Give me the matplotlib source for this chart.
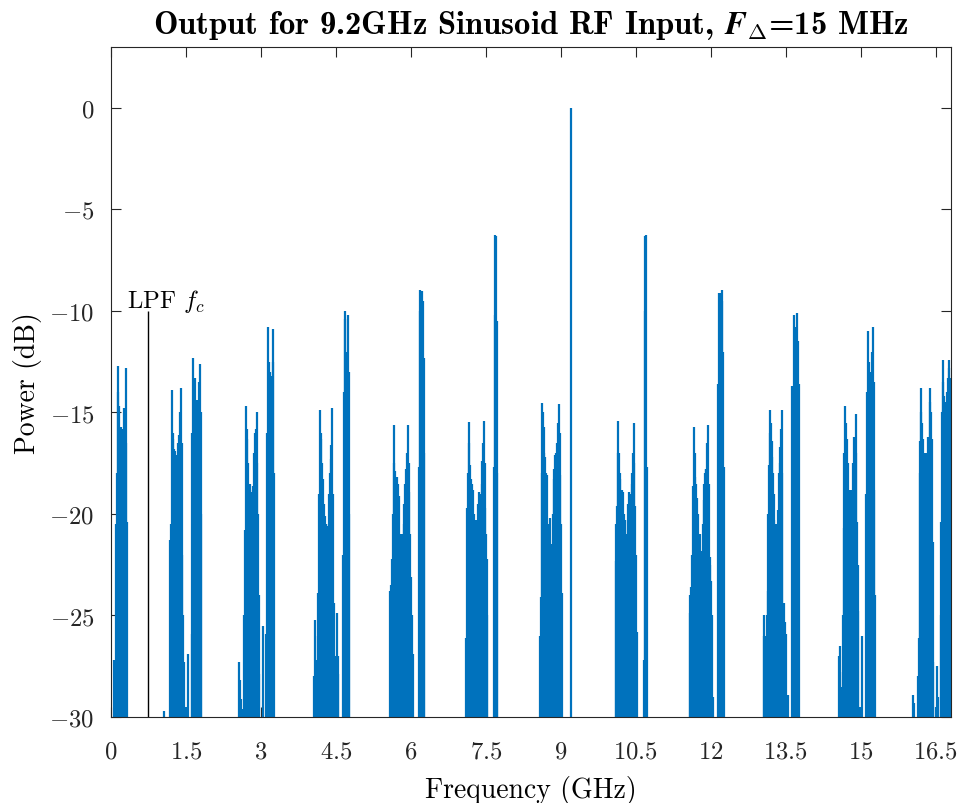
import matplotlib
matplotlib.use('Agg')
import matplotlib.pyplot as plt
from matplotlib.ticker import FuncFormatter

plt.rcParams['font.family'] = 'cmr10'
plt.rcParams['mathtext.fontset'] = 'cm'
plt.rcParams['axes.unicode_minus'] = False

# spectral lines (GHz, dB), grouped by 1.5 GHz zone
f_z0 = [0.060, 0.080, 0.100, 0.115, 0.134, 0.150, 0.167, 0.180, 0.194, 0.210, 0.227, 0.245, 0.260, 0.278, 0.294, 0.310, 0.327]
p_z0 = [-27.2, -29.0, -20.5, -18.0, -12.7, -14.0, -14.7, -15.8, -15.7, -16.0, -16.2, -15.8, -14.8, -15.5, -12.8, -16.5, -20.4]

f_z1 = [1.068,
        1.181, 1.195, 1.215, 1.235, 1.248, 1.268, 1.288, 1.308, 1.328, 1.348, 1.362, 1.382, 1.395, 1.415, 1.428, 1.448, 1.462,
        1.502, 1.549,
        1.615, 1.629, 1.642, 1.662, 1.675, 1.695, 1.715, 1.735, 1.749, 1.769, 1.782, 1.796, 1.810]
p_z1 = [-29.7,
        -21.3, -20.5, -13.9, -16.0, -16.3, -16.8, -16.9, -17.3, -17.1, -16.5, -16.1, -15.0, -13.8, -16.5, -22.0, -25.0, -27.3,
        -29.5, -26.9,
        -25.9, -16.0, -12.3, -14.0, -13.3, -15.0, -14.4, -14.6, -14.4, -13.5, -12.6, -15.0, -20.0]

f_z2 = [2.570, 2.590, 2.610, 2.636, 2.656, 2.676, 2.696, 2.716, 2.730, 2.750, 2.770, 2.790, 2.816, 2.836, 2.850, 2.863,
        2.876, 2.896, 2.916, 2.930, 2.943, 2.956, 2.970,
        3.037,
        3.110, 3.130, 3.150, 3.170, 3.184, 3.204, 3.217, 3.237, 3.250, 3.270]
p_z2 = [-27.3, -28.2, -29.1, -29.6, -25.0, -20.8, -14.7, -15.8, -16.3, -17.5, -18.7, -18.5, -18.9, -18.8, -18.6, -17.0,
        -16.0, -15.8, -15.0, -17.5, -20.0, -24.0, -27.9,
        -25.5,
        -25.9, -16.0, -10.8, -12.5, -13.0, -13.2, -13.4, -12.5, -10.9, -18.0]

f_z3 = [4.071, 4.091, 4.119, 4.139, 4.152, 4.172, 4.185, 4.199, 4.212, 4.232, 4.252, 4.272, 4.292, 4.312, 4.325,
        4.345, 4.359, 4.372, 4.385, 4.399, 4.412, 4.432, 4.452, 4.465, 4.485, 4.499, 4.519, 4.539, 4.552,
        4.645, 4.660, 4.679, 4.692, 4.705, 4.725, 4.745, 4.759, 4.772]
p_z3 = [-28.0, -25.2, -27.2, -26.0, -23.9, -19.0, -14.9, -16.0, -16.3, -17.5, -18.3, -19.5, -20.1, -20.5, -20.8,
        -20.6, -20.5, -19.0, -18.0, -17.3, -16.6, -14.8, -19.0, -24.4, -27.0, -29.0, -24.9, -27.0, -27.9,
        -22.0, -14.0, -10.0, -10.4, -12.3, -12.0, -10.2, -13.0, -20.0]

f_z4 = [5.587, 5.607, 5.620, 5.640, 5.654, 5.667, 5.687, 5.700, 5.720, 5.740, 5.754, 5.767, 5.780, 5.794, 5.807,
        5.820, 5.834, 5.854, 5.867, 5.887, 5.900, 5.920, 5.940, 5.954, 5.967, 5.987, 6.000, 6.020, 6.034,
        6.154, 6.174, 6.187, 6.201, 6.221, 6.241, 6.254, 6.268]
p_z4 = [-23.8, -23.5, -22.2, -20.0, -17.5, -15.6, -17.9, -19.0, -18.2, -18.5, -19.1, -21.0, -22.2, -21.5, -21.0,
        -21.0, -21.1, -20.5, -19.5, -18.5, -17.8, -17.0, -15.6, -17.5, -18.9, -21.0, -23.1, -25.0, -26.9,
        -17.7, -10.0, -8.96, -9.5, -9.0, -9.5, -12.3, -17.0]

f_z5 = [7.095, 7.115, 7.135, 7.155, 7.168, 7.182, 7.202, 7.215, 7.228, 7.242, 7.255, 7.269, 7.289, 7.302, 7.322,
        7.335, 7.349, 7.362, 7.382, 7.395, 7.415, 7.429, 7.449, 7.462, 7.475, 7.489, 7.502, 7.515, 7.529,
        7.663, 7.676, 7.690, 7.703, 7.716, 7.730]
p_z5 = [-26.1, -19.7, -18.0, -15.45, -16.5, -17.6, -18.3, -19.2, -18.5, -18.8, -20.0, -22.2, -21.0, -20.3, -20.8,
        -20.8, -19.5, -18.9, -19.0, -19.0, -18.5, -17.4, -16.5, -15.4, -17.5, -19.7, -21.0, -22.2, -25.0,
        -17.7, -10.2, -6.25, -6.3, -10.5, -18.0]

f_z6 = [8.590, 8.604, 8.617, 8.630, 8.644, 8.657, 8.670, 8.690, 8.704, 8.724, 8.744, 8.757, 8.770, 8.791,
        8.811, 8.824, 8.837, 8.857, 8.871, 8.891, 8.904, 8.924, 8.944, 8.957, 8.977, 8.991, 9.004, 9.017,
        9.2]
p_z6 = [-26.0, -24.1, -18.0, -14.55, -15.0, -15.7, -17.0, -17.2, -18.0, -18.1, -20.5, -21.9, -20.5, -20.2,
        -21.5, -21.9, -20.0, -18.3, -17.8, -17.1, -17.0, -16.5, -15.5, -14.6, -16.0, -18.1, -20.5, -23.9,
        0.0]

f_z7 = [10.099, 10.112, 10.126, 10.139, 10.152, 10.166, 10.179, 10.192, 10.212, 10.226, 10.246, 10.259, 10.279,
        10.292, 10.306, 10.326, 10.339, 10.352, 10.366, 10.379, 10.399, 10.419, 10.432, 10.446, 10.459, 10.472,
        10.492, 10.506, 10.519,
        10.660, 10.679, 10.693, 10.706, 10.726]
p_z7 = [-22.3, -20.5, -19.6, -17.0, -15.4, -17.0, -18.3, -18.0, -18.9, -18.8, -18.9, -20.0, -20.3,
        -21.0, -22.0, -21.0, -20.3, -19.5, -18.9, -19.0, -19.2, -18.5, -18.0, -17.0, -15.5, -17.5,
        -19.6, -22.0, -25.8,
        -27.2, -10.0, -6.3, -6.25, -17.7]

f_z8 = [11.580, 11.593, 11.607, 11.627, 11.647, 11.667, 11.680, 11.694, 11.707, 11.727, 11.741, 11.760, 11.774,
        11.794, 11.807, 11.827, 11.841, 11.860, 11.874, 11.887, 11.900, 11.914, 11.927, 11.948, 11.961, 11.981,
        11.994, 12.014, 12.028, 12.041,
        12.155, 12.168, 12.188, 12.208, 12.221, 12.235, 12.248, 12.261]
p_z8 = [-24.9, -24.0, -23.6, -22.0, -18.6, -15.7, -17.0, -18.2, -18.5, -19.2, -20.0, -21.3, -21.5,
        -21.0, -21.8, -22.1, -20.5, -19.3, -18.5, -18.0, -17.8, -17.8, -16.5, -15.6, -18.5, -22.1,
        -22.5, -23.3, -25.0, -29.0,
        -13.6, -9.1, -10.5, -9.1, -9.5, -8.96, -12.0, -17.7]

f_z9 = [13.062, 13.075, 13.095, 13.109, 13.129, 13.142, 13.155, 13.169, 13.182, 13.195, 13.209, 13.222, 13.235,
        13.249, 13.262, 13.276, 13.289, 13.302, 13.316, 13.336, 13.349, 13.369, 13.382, 13.396, 13.409, 13.422,
        13.436, 13.462, 13.482, 13.502, 13.549,
        13.636, 13.663, 13.683, 13.696, 13.716, 13.730, 13.750, 13.763]
p_z9 = [-26.0, -25.0, -26.0, -27.1, -25.0, -23.8, -20.0, -17.6, -16.0, -14.9, -15.5, -16.4, -17.2,
        -18.0, -19.0, -20.3, -21.0, -21.1, -20.5, -20.5, -19.8, -18.0, -17.5, -16.7, -15.8, -14.9,
        -18.0, -24.4, -25.3, -25.9, -28.9,
        -13.7, -10.2, -11.0, -12.0, -10.8, -10.1, -11.5, -13.6]

f_z10 = [14.564, 14.584, 14.597, 14.617, 14.631, 14.651, 14.664, 14.677, 14.691, 14.711, 14.731, 14.744, 14.764,
         14.784, 14.798, 14.811, 14.831, 14.851, 14.864, 14.884, 14.904, 14.918, 14.931, 14.944, 14.958, 14.998,
         15.032,
         15.118, 15.131, 15.151, 15.165, 15.185, 15.198, 15.218, 15.231, 15.251, 15.265, 15.278, 15.291]
p_z10 = [-27.0, -26.5, -27.8, -28.5, -29.5, -25.0, -20.7, -17.0, -14.7, -15.5, -16.3, -17.5, -19.0,
         -18.8, -18.8, -18.8, -19.0, -17.5, -16.2, -16.5, -15.1, -17.0, -20.4, -22.5, -24.8, -29.5,
         -26.0,
         -19.0, -14.0, -11.0, -12.5, -13.0, -13.2, -13.0, -12.0, -10.8, -13.5, -18.8, -24.0]

f_z11 = [16.046, 16.066,
         16.153, 16.166, 16.180, 16.186, 16.200, 16.213, 16.233, 16.246, 16.266, 16.280, 16.300, 16.313, 16.333,
         16.346, 16.366, 16.380, 16.393, 16.406, 16.426, 16.440, 16.453,
         16.500, 16.533, 16.553,
         16.600, 16.614, 16.627, 16.640, 16.654, 16.667, 16.680, 16.694, 16.707, 16.720, 16.734, 16.747, 16.760,
         16.774, 16.787, 16.800]
p_z11 = [-28.9, -29.3,
         -28.0, -26.1, -18.0, -16.4, -15.0, -13.8, -15.5, -16.3, -17.0, -17.0, -17.1, -17.2, -17.0,
         -16.2, -16.3, -14.5, -13.8, -15.0, -16.3, -21.4, -27.3,
         -29.5, -27.5, -29.0,
         -25.0, -20.4, -15.0, -12.4, -13.5, -14.2, -14.5, -14.6, -14.7, -14.5, -14.0, -13.3, -12.8,
         -12.4, -13.3, -20.0]

lpf_fc = 0.75      # GHz
lpf_mark = -10.0   # dB, top of the marker line
x_ticks = [0, 1.5, 3, 4.5, 6, 7.5, 9, 10.5, 12, 13.5, 15, 16.5]
y_ticks = [-30, -25, -20, -15, -10, -5, 0]
x_max = 16.81
y_min, y_max = -30, 3

freqs = (f_z0 + f_z1 + f_z2 + f_z3 + f_z4 + f_z5 + f_z6 + f_z7 + f_z8 + f_z9 + f_z10 + f_z11)
power = (p_z0 + p_z1 + p_z2 + p_z3 + p_z4 + p_z5 + p_z6 + p_z7 + p_z8 + p_z9 + p_z10 + p_z11)

fig = plt.figure(figsize=(9.61, 8.04), dpi=100)
ax = fig.add_axes([111 / 961, 1 - 718 / 804, 840 / 961, 670 / 804])

ax.vlines(freqs, y_min, power, colors='#0072BD', linewidth=1.6)
ax.vlines(lpf_fc, y_min, lpf_mark, colors='k', linewidth=1.0)
ax.text(0.33, -9.8, r'LPF $f_c$', fontsize=17.8, va='baseline', ha='left')

ax.set_xlim(0, x_max)
ax.set_ylim(y_min, y_max)
ax.set_xticks(x_ticks)
ax.set_yticks(y_ticks)
fmt = FuncFormatter(lambda v, pos: '$%g$' % v)
ax.xaxis.set_major_formatter(fmt)
ax.yaxis.set_major_formatter(fmt)
ax.tick_params(direction='in', length=7, width=0.8, color='#262626',
               top=True, right=True, labelsize=17.8, labelcolor='#262626')
ax.tick_params(axis='x', pad=17)
ax.tick_params(axis='y', pad=12)
for s in ax.spines.values():
    s.set_color('#262626')
    s.set_linewidth(0.8)

ax.set_xlabel('Frequency (GHz)', fontsize=20, labelpad=9)
ax.set_ylabel('Power (dB)', fontsize=20, labelpad=5)
ax.set_title(r'Output for 9.2GHz Sinusoid RF Input, $\mathbfit{F}_{\mathbf{\Delta}}$=15 MHz',
             fontsize=23.5, fontfamily='cmb10', pad=10)

fig.savefig('out.png', dpi=100)
